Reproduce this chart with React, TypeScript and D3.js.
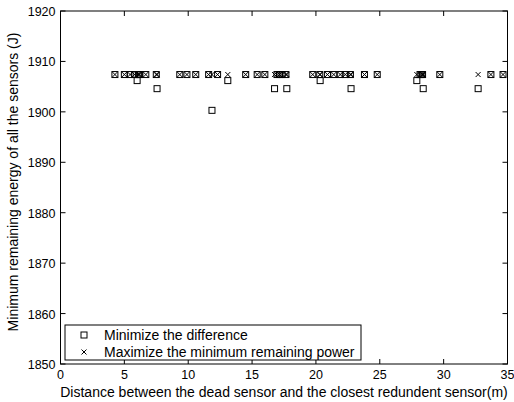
import React, { useEffect, useRef } from "react";
import * as d3 from "d3";

const distances = [4.26, 5.0, 5.45, 5.8, 6.0, 6.1, 6.2, 6.68, 7.5, 7.56, 9.34, 9.9, 10.59, 11.6, 11.86, 12.3, 13.1, 14.5, 15.4, 16.0, 16.76, 16.95, 17.15, 17.35, 17.65, 17.72, 19.75, 20.3, 20.33, 20.9, 21.4, 21.9, 22.3, 22.7, 22.75, 23.8, 24.8, 27.9, 28.15, 28.3, 28.35, 28.4, 29.7, 32.7, 33.7, 34.65];
const minimizeDifference = [1907.4, 1907.4, 1907.4, 1907.4, 1906.2, 1907.4, 1907.4, 1907.4, 1907.4, 1904.6, 1907.4, 1907.4, 1907.4, 1907.4, 1900.3, 1907.4, 1906.2, 1907.4, 1907.4, 1907.4, 1904.6, 1907.4, 1907.4, 1907.4, 1907.4, 1904.6, 1907.4, 1907.4, 1906.2, 1907.4, 1907.4, 1907.4, 1907.4, 1907.4, 1904.6, 1907.4, 1907.4, 1906.2, 1907.4, 1907.4, 1907.4, 1904.6, 1907.4, 1904.6, 1907.4, 1907.4];
const maximizeMinPower = [1907.4, 1907.4, 1907.4, 1907.4, 1907.4, 1907.4, 1907.4, 1907.4, 1907.4, 1907.4, 1907.4, 1907.4, 1907.4, 1907.4, 1907.4, 1907.4, 1907.4, 1907.4, 1907.4, 1907.4, 1907.4, 1907.4, 1907.4, 1907.4, 1907.4, 1907.4, 1907.4, 1907.4, 1907.4, 1907.4, 1907.4, 1907.4, 1907.4, 1907.4, 1907.4, 1907.4, 1907.4, 1907.4, 1907.4, 1907.4, 1907.4, 1907.4, 1907.4, 1907.4, 1907.4, 1907.4];
const xTicks = [0, 5, 10, 15, 20, 25, 30, 35];
const yTicks = [1850, 1860, 1870, 1880, 1890, 1900, 1910, 1920];
const legendLabels = ["Minimize the difference", "Maximize the minimum remaining power"];
const xLabel = "Distance between the dead sensor and the closest redundent sensor(m)";
const yLabel = "Minimum remaining energy of all the sensors (J)";

const W = 514, H = 402;
const L = 60.5, R = 507.5, T = 11, B = 364;
const FONT = "'Liberation Sans', Arial, Helvetica, sans-serif";

export default function App() {
  const ref = useRef<SVGSVGElement>(null);
  useEffect(() => {
    const svg = d3.select(ref.current);
    svg.selectAll("*").remove();
    const x = d3.scaleLinear().domain([0, 35]).range([L, R]);
    const y = d3.scaleLinear().domain([1850, 1920]).range([B, T]);
    const g = svg.append("g");
    g.append("rect").attr("x", L).attr("y", T).attr("width", R - L).attr("height", B - T)
      .attr("fill", "white").attr("stroke", "black").attr("stroke-width", 1);
    const tl = 5;
    xTicks.forEach(t => {
      const px = x(t);
      g.append("line").attr("x1", px).attr("x2", px).attr("y1", B).attr("y2", B - tl).attr("stroke", "black");
      g.append("line").attr("x1", px).attr("x2", px).attr("y1", T).attr("y2", T + tl).attr("stroke", "black");
      g.append("text").attr("x", px).attr("y", B + 15).attr("text-anchor", "middle")
        .attr("font-family", FONT).attr("font-size", 12.5).text(String(t));
    });
    yTicks.forEach(t => {
      const py = y(t);
      g.append("line").attr("x1", L).attr("x2", L + tl).attr("y1", py).attr("y2", py).attr("stroke", "black");
      g.append("line").attr("x1", R).attr("x2", R - tl).attr("y1", py).attr("y2", py).attr("stroke", "black");
      g.append("text").attr("x", L - 5).attr("y", py + 5).attr("text-anchor", "end")
        .attr("font-family", FONT).attr("font-size", 12.5).text(String(t));
    });
    g.append("text").attr("x", 284).attr("y", 397).attr("text-anchor", "middle")
      .attr("font-family", FONT).attr("font-size", 14).text(xLabel);
    g.append("text").attr("transform", `translate(18,182) rotate(-90)`).attr("text-anchor", "middle")
      .attr("font-family", FONT).attr("font-size", 14).text(yLabel);

    const sq = 3;
    const xs = 2.5;
    const drawSquare = (cx: number, cy: number) => {
      g.append("rect").attr("x", cx - sq).attr("y", cy - sq).attr("width", 2 * sq).attr("height", 2 * sq)
        .attr("fill", "none").attr("stroke", "black").attr("stroke-width", 1);
    };
    const drawX = (cx: number, cy: number) => {
      g.append("path").attr("d", `M${cx - xs},${cy - xs}L${cx + xs},${cy + xs}M${cx - xs},${cy + xs}L${cx + xs},${cy - xs}`)
        .attr("stroke", "black").attr("stroke-width", 1).attr("fill", "none");
    };
    distances.forEach((d, i) => {
      drawSquare(x(d), y(minimizeDifference[i]));
      drawX(x(d), y(maximizeMinPower[i]));
    });

    // legend
    const lx = 65, ly = 325, lw = 296, lh = 35;
    g.append("rect").attr("x", lx).attr("y", ly).attr("width", lw).attr("height", lh)
      .attr("fill", "white").attr("stroke", "black");
    drawSquare(84, 335);
    drawX(84, 352);
    legendLabels.forEach((lab, i) => {
      g.append("text").attr("x", 104).attr("y", 340 + i * 17).attr("font-family", FONT).attr("font-size", 14).text(lab);
    });
  }, []);
  return (
    <svg ref={ref} width={W} height={H} style={{ position: "absolute", left: 0, top: 0, background: "white" }} />
  );
}
